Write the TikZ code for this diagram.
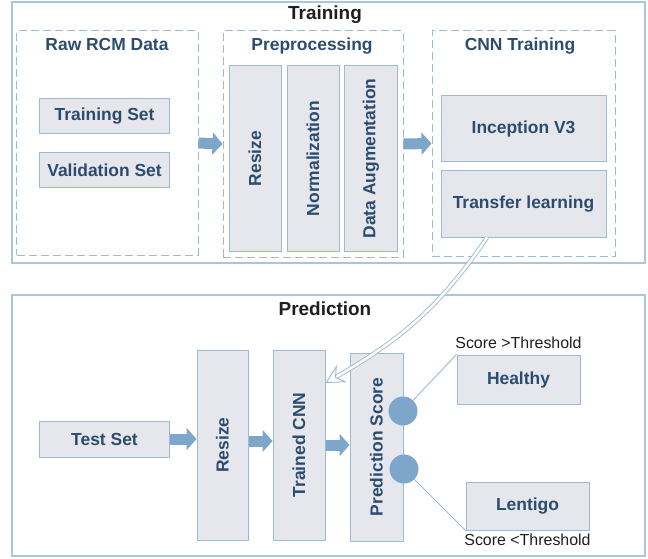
\documentclass[tikz,border=0pt]{standalone}
\usepackage{fontspec}
\setmainfont{Liberation Sans}
\usetikzlibrary{arrows.meta, positioning, calc}
\definecolor{BOXFILL}{HTML}{E5E7EC}
\definecolor{BOXLINE}{HTML}{9DBAD5}
\definecolor{TEXTBLUE}{HTML}{2B4C6F}
\definecolor{ARROW}{HTML}{7EA6CA}
\definecolor{FRAME}{HTML}{A9C5DF}
\definecolor{INK}{HTML}{1E1E1E}

\begin{document}
\begin{tikzpicture}[x=1bp, y=-1bp,
    box/.style={draw=BOXLINE, fill=BOXFILL, line width=1bp, text=TEXTBLUE, inner sep=0pt, font=\fontsize{17.5}{20}\selectfont\bfseries},
    frame/.style={draw=FRAME, line width=1.2bp, minimum width=633bp, minimum height=261bp, inner sep=0pt},
    group/.style={draw=BOXLINE, line width=1bp, dash pattern=on 8bp off 4bp, inner sep=0pt},
    title/.style={text=INK, font=\fontsize{19}{22}\selectfont\bfseries},
    head/.style={text=TEXTBLUE, font=\fontsize{17.5}{20}\selectfont\bfseries},
    note/.style={text=INK, inner sep=1bp, font=\fontsize{16}{19}\selectfont},
    fat/.style={ARROW, line width=11bp, -{Triangle[length=10bp, width=22bp]}},
    dot/.style={circle, fill=ARROW, minimum size=29bp, inner sep=0pt},
    link/.style={draw=BOXLINE, line width=0.9bp}]
    \useasboundingbox (0,0) rectangle (648,559);

    \node[frame] (training) at (328.5,132.5) {};
    \node[title] (trtitle) at (325,15) {Training};
    \node[group, minimum width=181bp, minimum height=224bp] (raw) at (107.5,143) {};
    \node[group, minimum width=180bp, minimum height=226bp] (prep) at (313,144) {};
    \node[group, minimum width=183bp, minimum height=225bp] (cnn) at (523.5,143.5) {};
    \node[head] (rawtitle) at (107,45) {Raw RCM Data};
    \node[head] (preptitle) at (312,46) {Preprocessing};
    \node[head] (cnntitle) at (520,46) {CNN Training};

    \node[box, minimum width=129bp, minimum height=35bp] (trainset) at (104.5,116.5) {Training Set};
    \node[box, minimum width=129bp, minimum height=35bp] (valset) at (104.5,170.5) {Validation Set};
    \node[box, minimum width=52bp, minimum height=185bp] (presize) at (255,158.5) {\rotatebox{90}{Resize}};
    \node[box, minimum width=52bp, minimum height=185bp] (pnorm) at (313,158.5) {\rotatebox{90}{Normalization}};
    \node[box, minimum width=53bp, minimum height=185bp] (paug) at (371,158.5) {\rotatebox{90}{Data Augmentation}};
    \node[box, minimum width=165bp, minimum height=66bp] (incep) at (523.5,129) {Inception V3};
    \node[box, minimum width=165bp, minimum height=66bp] (transfer) at (523.5,204) {Transfer learning};

    \draw[fat] (raw.east) -- (prep.west);
    \draw[fat] (prep.east) -- (cnn.west);

    \node[frame] (prediction) at (328.5,425.5) {};
    \node[title] (prtitle) at (325,309) {Prediction};
    \node[box, minimum width=129bp, minimum height=36bp] (testset) at (104.5,439) {Test Set};
    \node[box, minimum width=51bp, minimum height=190bp] (resize) at (222.5,445) {\rotatebox{90}{Resize}};
    \node[box, minimum width=52bp, minimum height=190bp] (tcnn) at (299,445) {\rotatebox{90}{Trained CNN}};
    \node[box, minimum width=53bp, minimum height=188bp] (pscore) at (376.5,447) {\rotatebox{90}{Prediction Score}};
    \node[box, minimum width=123bp, minimum height=49bp] (healthy) at (518.5,379.5) {Healthy};
    \node[box, minimum width=123bp, minimum height=48bp] (lentigo) at (527.5,506) {Lentigo};
    \node[note, above=5bp of healthy] (hinote) {Score >Threshold};
    \node[note, below=2bp of lentigo] (lonote) {Score <Threshold};
    \node[dot] (hidot) at (403,411) {};
    \node[dot] (lodot) at (404,469) {};

    \draw[fat] (testset.east) -- (testset.east -| resize.west);
    \draw[fat] ([yshift=4bp]resize.east) -- ([yshift=4bp]tcnn.west);
    \draw[fat] (tcnn.east) -- (tcnn.east -| pscore.west);
    \draw[link] (hidot) -- (healthy.north west);
    \draw[link] (lodot) -- (lentigo.south west);

    \coordinate (tlfoot) at ($(transfer.south west)!0.28!(transfer.south east)$);
    \draw[draw=BOXLINE, line width=0.9bp, double=white, double distance=2.5bp,
        -{Stealth[open, fill=white, length=19bp, width=20bp, inset=7bp, line width=0.9bp]}]
        (tlfoot) to[out=236, in=30] ([yshift=62bp]tcnn.east);
\end{tikzpicture}
\end{document}
